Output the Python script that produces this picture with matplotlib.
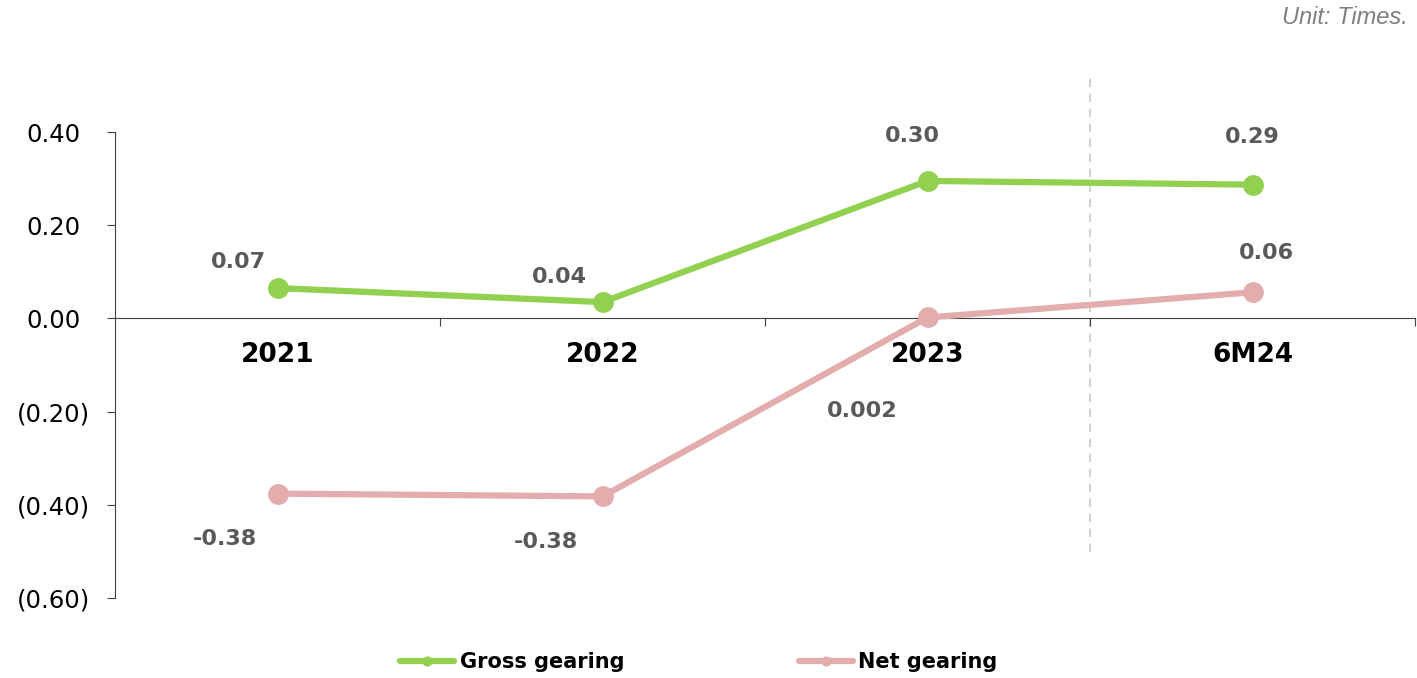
import matplotlib
matplotlib.use("Agg")
import matplotlib.pyplot as plt
from matplotlib.ticker import FixedLocator, FuncFormatter

categories = ["2021", "2022", "2023", "6M24"]
gross = [0.065, 0.035, 0.295, 0.287]
net = [-0.376, -0.382, 0.002, 0.056]
gross_labels = ["0.07", "0.04", "0.30", "0.29"]
net_labels = ["-0.38", "-0.38", "0.002", "0.06"]
yticks = [0.4, 0.2, 0.0, -0.2, -0.4, -0.6]

GREEN = "#92d050"
PINK = "#e4adad"
LABEL = "#595959"

fig = plt.figure(figsize=(14.17, 6.78), dpi=100)
ax = fig.add_axes([115/1417, 1-598/678, 1300/1417, (598-132)/678])

x = list(range(len(categories)))
ax.plot(x, gross, color=GREEN, lw=4.5, marker="o", ms=14, solid_capstyle="round", label="Gross gearing", zorder=3)
ax.plot(x, net, color=PINK, lw=4.5, marker="o", ms=14, solid_capstyle="round", label="Net gearing", zorder=3)

ax.set_xlim(-0.5, len(categories) - 0.5)
ax.set_ylim(-0.6, 0.4)

# divider
ax.plot([2.5, 2.5], [-0.502, 0.521], color="#c8c8c8", lw=1.2, ls=(0, (5, 4)), clip_on=False, zorder=1)

ax.spines["top"].set_visible(False)
ax.spines["right"].set_visible(False)
ax.spines["bottom"].set_position(("data", 0))
ax.spines["bottom"].set_color("#404040")
ax.spines["left"].set_color("#404040")

ax.xaxis.set_major_locator(FixedLocator([0.5, 1.5, 2.5, 3.5]))
ax.xaxis.set_minor_locator(FixedLocator(x))
ax.set_xticklabels([], minor=False)
ax.set_xticklabels(categories, minor=True, fontsize=19, fontweight="bold", color="black")
ax.tick_params(axis="x", which="major", direction="out", length=6, color="#404040")
ax.tick_params(axis="x", which="minor", length=0, pad=17)

ax.set_yticks(yticks)
ax.yaxis.set_major_formatter(FuncFormatter(lambda v, p: f"{v:.2f}" if v >= -1e-9 else f"({abs(v):.2f})"))
ax.tick_params(axis="y", direction="out", length=6, color="#404040", labelsize=17.5, pad=38.6)
for t in ax.get_yticklabels():
    t.set_horizontalalignment("center")

gross_off = [(-28, 19), (-31, 18), (-11, 32), (0, 34)]
net_off = [(-38, -33), (-41, -33), (-47, -67), (10, 28)]
for i in x:
    ax.annotate(gross_labels[i], (i, gross[i]), xytext=gross_off[i], textcoords="offset points",
                ha="center", va="center", fontsize=16, fontweight="bold", color=LABEL)
    ax.annotate(net_labels[i], (i, net[i]), xytext=net_off[i], textcoords="offset points",
                ha="center", va="center", fontsize=16, fontweight="bold", color=LABEL)

leg = fig.legend(loc="center", bbox_to_anchor=(699/1417, 1-662/678), ncol=2, frameon=False,
                 handlelength=2.6, handletextpad=0.25, columnspacing=8.4, markerscale=0.45,
                 prop={"weight": "bold", "size": 15})

fig.text(1408/1417, 1-18/678, "Unit: Times.", ha="right", va="center", fontsize=17,
         style="italic", color="#7f7f7f", family="Liberation Sans")

fig.savefig("out.png", dpi=100)
